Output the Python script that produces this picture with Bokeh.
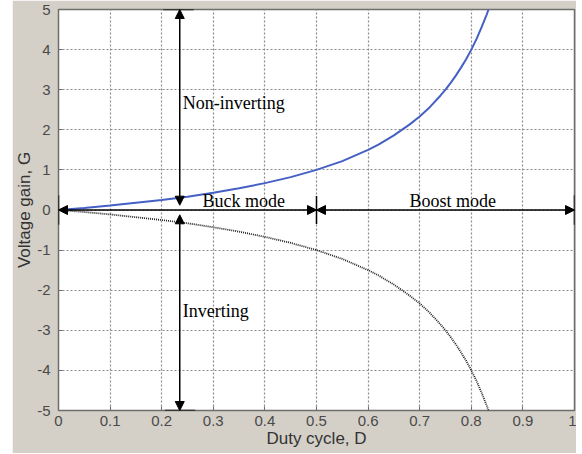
from bokeh.plotting import figure
from bokeh.models import (FixedTicker, Arrow, NormalHead, Label, ColumnDataSource, Spacer)
from bokeh.layouts import row
from bokeh.embed import file_html
from bokeh.resources import INLINE

# Values
duty = [0.0, 0.05, 0.1, 0.15, 0.2, 0.25, 0.3, 0.35, 0.4, 0.45, 0.5, 0.55, 0.6,
        0.62, 0.65, 0.68, 0.7, 0.72, 0.74, 0.75, 0.76, 0.77, 0.78, 0.79, 0.8,
        0.81, 0.82, 0.83, 0.835]
gain_noninverting = [0.0, 0.05, 0.11, 0.18, 0.25, 0.33, 0.43, 0.54, 0.67, 0.82,
                     1.0, 1.22, 1.5, 1.63, 1.86, 2.13, 2.33, 2.57, 2.85, 3.0,
                     3.17, 3.35, 3.55, 3.76, 4.0, 4.26, 4.56, 4.88, 5.06]
gain_inverting = [0.0, -0.05, -0.11, -0.18, -0.25, -0.33, -0.43, -0.54, -0.67,
                  -0.82, -1.0, -1.22, -1.5, -1.63, -1.86, -2.13, -2.33, -2.57,
                  -2.85, -3.0, -3.17, -3.35, -3.55, -3.76, -4.0, -4.26, -4.56,
                  -4.88, -5.06]
x_ticks = [0, 0.1, 0.2, 0.3, 0.4, 0.5, 0.6, 0.7, 0.8, 0.9, 1]
x_tick_labels = ["0", "0.1", "0.2", "0.3", "0.4", "0.5", "0.6", "0.7", "0.8", "0.9", "1"]
y_ticks = [-5, -4, -3, -2, -1, 0, 1, 2, 3, 4, 5]
y_tick_labels = ["-5", "-4", "-3", "-2", "-1", "0", "1", "2", "3", "4", "5"]

BG = "#d4d0c8"

p = figure(width=564, height=453, x_range=(0, 1), y_range=(-5, 5),
           output_backend="svg", toolbar_location=None,
           min_border_left=46, min_border_right=2, min_border_top=9,
           min_border_bottom=43)
p.background_fill_color = "white"
p.border_fill_color = BG
p.outline_line_color = "#6e6e6e"
p.outline_line_width = 1.5

for ax in (p.xaxis[0], p.yaxis[0]):
    ax.axis_line_color = None
    ax.major_tick_in = 4
    ax.major_tick_out = 0
    ax.major_tick_line_color = "#6e6e6e"
    ax.minor_tick_line_color = None
    ax.major_label_text_font = "Liberation Sans"
    ax.major_label_text_font_size = "15px"
    ax.major_label_text_color = "#4a4a4a"
    ax.axis_label_text_font = "Liberation Sans"
    ax.axis_label_text_font_size = "17px"
    ax.axis_label_text_font_style = "normal"
    ax.axis_label_text_color = "#333333"

p.xaxis.ticker = FixedTicker(ticks=x_ticks)
p.xaxis.major_label_overrides = {t: l for t, l in zip(x_ticks, x_tick_labels)}
p.yaxis.ticker = FixedTicker(ticks=y_ticks)
p.yaxis.major_label_overrides = {t: l for t, l in zip(y_ticks, y_tick_labels)}
p.xaxis.axis_label = "Duty cycle, D"
p.yaxis.axis_label = "Voltage gain, G"
p.xaxis.major_label_standoff = 5
p.xaxis.axis_label_standoff = 0
p.yaxis.major_label_standoff = 8
p.yaxis.axis_label_standoff = 0

for g in (p.xgrid[0], p.ygrid[0]):
    g.grid_line_color = "#8a8a8a"
    g.grid_line_dash = "2 2"
    g.grid_line_width = 1.2

src = ColumnDataSource(dict(d=duty, gp=gain_noninverting, gn=gain_inverting))
p.line("d", "gp", source=src, line_color="#4560c4", line_width=2)
p.line("d", "gn", source=src, line_color="#222222", line_width=1.8, line_dash="1 1")

def head():
    return NormalHead(size=9, fill_color="black", line_color="black")

def arrow(x0, y0, x1, y1):
    p.add_layout(Arrow(x_start=x0, y_start=y0, x_end=x1, y_end=y1,
                       end=head(), start=head(),
                       line_color="black", line_width=1.5))

# vertical arrows
arrow(0.235, 0.12, 0.235, 5)
arrow(0.235, -0.12, 0.235, -5)
# horizontal arrows
arrow(0.0, 0, 0.5, 0)
arrow(0.5, 0, 1.0, 0)
# end bars
p.segment(x0=[0.203, 0.206, 0.0, 0.5, 1.0], y0=[5, -5, -0.37, -0.35, -0.37],
          x1=[0.262, 0.265, 0.0, 0.5, 1.0], y1=[5, -5, 0.37, 0.35, 0.37],
          line_color="black", line_width=1.5)

def lab(x, y, t):
    p.add_layout(Label(x=x, y=y, text=t, text_font="Liberation Serif",
                       text_font_size="18px", text_color="black",
                       text_baseline="middle", text_align="left"))

lab(0.241, 2.68, "Non-inverting")
lab(0.241, -2.53, "Inverting")
lab(0.279, 0.22, "Buck mode")
lab(0.68, 0.22, "Boost mode")

layout = row(Spacer(width=12, height=453), p)
open("out.html", "w").write(file_html(layout, INLINE))
